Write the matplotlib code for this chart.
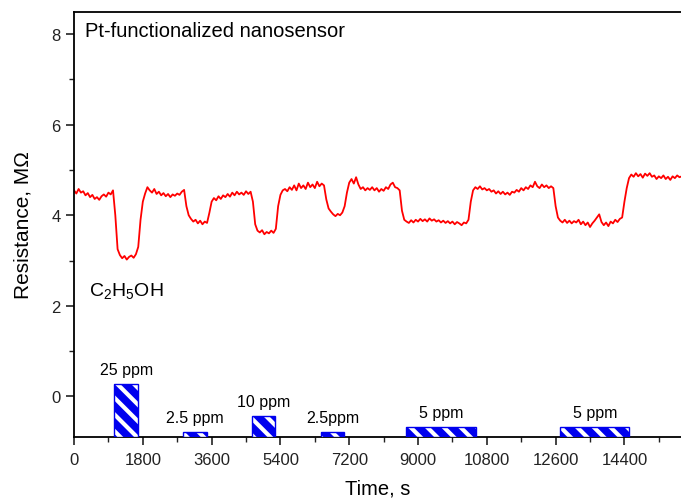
import numpy as np
import matplotlib
matplotlib.use('Agg')
import matplotlib.pyplot as plt
from matplotlib.ticker import MultipleLocator

plt.rcParams['font.family'] = ['Liberation Sans', 'DejaVu Sans']
plt.rcParams['mathtext.fontset'] = 'custom'
plt.rcParams['mathtext.rm'] = 'Liberation Sans'
plt.rcParams['hatch.linewidth'] = 3.0

# resistance trace, one reading every 60 s
step = 60
resistance = [
    4.55, 4.48, 4.58, 4.50, 4.53, 4.44, 4.49, 4.40, 4.45, 4.36, 4.40, 4.34, 4.42, 4.46, 4.41, 4.50, 4.46, 4.55,
    4.00, 3.25, 3.12, 3.05, 3.10, 3.02, 3.08, 3.11, 3.06, 3.14, 3.30, 3.90, 4.30, 4.48, 4.62,
    4.55, 4.50, 4.58, 4.47, 4.52, 4.44, 4.49, 4.42, 4.47, 4.40, 4.46, 4.43, 4.48, 4.45, 4.52, 4.56,
    4.20, 4.00, 3.92, 3.86, 3.90, 3.82, 3.88, 3.80, 3.86, 3.83,
    4.05, 4.30, 4.38, 4.33, 4.42, 4.36, 4.44, 4.40, 4.47, 4.41, 4.50, 4.44, 4.52, 4.46, 4.50, 4.45, 4.53, 4.47, 4.52,
    4.30, 3.80, 3.66, 3.62, 3.67, 3.58, 3.63, 3.60, 3.66, 3.61, 3.70,
    4.20, 4.45, 4.55, 4.58, 4.53, 4.62, 4.56, 4.66, 4.55, 4.70, 4.60, 4.66, 4.58, 4.72, 4.62, 4.68, 4.60, 4.74, 4.64, 4.70, 4.66,
    4.35, 4.15, 4.08, 4.02, 3.98, 4.03, 4.00, 4.06, 4.20,
    4.50, 4.72, 4.80, 4.70, 4.84, 4.68, 4.58, 4.62, 4.55, 4.60, 4.56, 4.62, 4.55, 4.60, 4.52, 4.58, 4.54, 4.62, 4.58, 4.68, 4.72, 4.62, 4.60, 4.55,
    4.10, 3.90, 3.86, 3.83, 3.89, 3.84, 3.90, 3.86, 3.92, 3.87, 3.91, 3.86, 3.93, 3.88, 3.91, 3.86, 3.89, 3.84, 3.88, 3.83,
    3.87, 3.82, 3.86, 3.80, 3.85, 3.82, 3.78, 3.84, 3.82, 3.90,
    4.30, 4.55, 4.62, 4.58, 4.64, 4.57, 4.60, 4.55, 4.58, 4.52, 4.55, 4.48, 4.53, 4.47, 4.52, 4.46, 4.50, 4.45, 4.52, 4.50,
    4.56, 4.52, 4.60, 4.55, 4.62, 4.58, 4.66, 4.62, 4.74, 4.64, 4.60, 4.68, 4.62, 4.66, 4.60, 4.64, 4.60,
    4.20, 3.95, 3.88, 3.84, 3.90, 3.83, 3.88, 3.82, 3.87, 3.84, 3.90, 3.80, 3.86, 3.78, 3.84, 3.74, 3.82, 3.88, 3.95, 4.02,
    3.85, 3.78, 3.84, 3.76, 3.86, 3.82, 3.90, 3.85, 3.92, 3.95,
    4.30, 4.60, 4.82, 4.90, 4.85, 4.93, 4.86, 4.91, 4.83, 4.92, 4.87, 4.93, 4.85, 4.88, 4.80, 4.86, 4.82, 4.88, 4.80, 4.85,
    4.78, 4.86, 4.82, 4.88, 4.84, 4.86,
]
time = step * np.arange(len(resistance))

# ethanol pulses: start, end (s), bar top (axis units), label
pulse_start = [1050, 2860, 4665, 6460, 8680, 12720]
pulse_end = [1680, 3470, 5270, 7070, 10510, 14530]
pulse_top = [0.27, -0.78, -0.43, -0.78, -0.67, -0.67]
pulse_label = ['25 ppm', '2.5 ppm', '10 ppm', '2.5ppm', '5 ppm', '5 ppm']

ymin, ymax = -0.9, 8.49
xmax = 15880

fig = plt.figure(figsize=(6.81, 5.02), dpi=100)
ax = fig.add_axes([0.1087, 0.1275, 0.8913, 0.8465])

ax.plot(time, resistance, color='red', lw=1.3)

for s, e, top, lab in zip(pulse_start, pulse_end, pulse_top, pulse_label):
    ax.bar(s, top - ymin, width=e - s, bottom=ymin, align='edge',
           facecolor='#0000ee', edgecolor='white', hatch='\\\\', lw=0, zorder=3)
    ax.bar(s, top - ymin, width=e - s, bottom=ymin, align='edge',
           fill=False, edgecolor='#0000ee', lw=1.0, zorder=4)
    ax.annotate(lab, xy=((s + e) / 2, top), xytext=(0, 5), textcoords='offset points',
                ha='center', va='bottom', fontsize=11.5)

ax.text(0.018, 0.978, 'Pt-functionalized nanosensor', transform=ax.transAxes,
        ha='left', va='top', fontsize=14.5)
ax.text(0.024, 0.345, r'C$_2$H$_5$OH', transform=ax.transAxes,
        ha='left', va='center', fontsize=14)

ax.set_xlim(0, xmax)
ax.set_ylim(ymin, ymax)
ax.xaxis.set_major_locator(MultipleLocator(1800))
ax.xaxis.set_minor_locator(MultipleLocator(900))
ax.yaxis.set_major_locator(MultipleLocator(2))
ax.yaxis.set_minor_locator(MultipleLocator(1))
ax.tick_params(which='major', length=6, width=1.2, direction='out', labelsize=12, colors='#222222')
ax.tick_params(axis='x', which='major', pad=5)
ax.tick_params(which='minor', length=3.5, width=1.0, direction='out', colors='#222222')
ax.spines['right'].set_visible(False)
for sp in ['left', 'top', 'bottom']:
    ax.spines[sp].set_linewidth(1.3)

ax.set_xlabel('Time, s', fontsize=14.5, labelpad=8)
ax.set_ylabel('Resistance, M\u03a9', fontsize=15, labelpad=14)

fig.savefig('out.png', dpi=100)
